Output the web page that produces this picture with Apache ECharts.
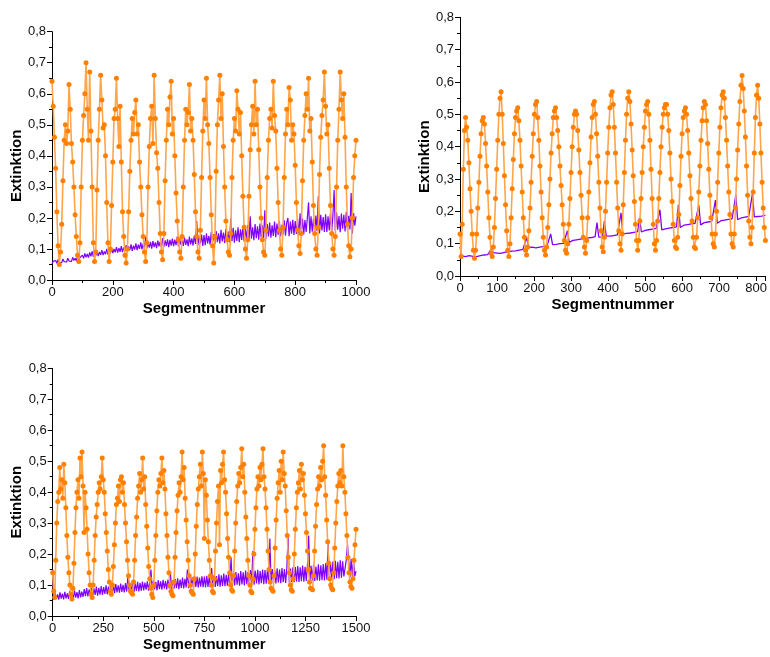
<!DOCTYPE html>
<html>
<head>
<meta charset="utf-8">
<script src="https://cdn.jsdelivr.net/npm/echarts@6/dist/echarts.min.js"></script>
<style>html,body{margin:0;padding:0;background:#fff}#c{width:770px;height:657px}</style>
</head>
<body>
<div id="c"></div>
<script>
// ---------- DATA ----------
const yTicks = [0, 0.1, 0.2, 0.3, 0.4, 0.5, 0.6, 0.7, 0.8];

// Panel 1 (Segment 0..1000)
const p1Step = 4;
const p1Orange = [
0.64,0.56,0.46,0.36,0.22,0.11,0.05,0.09,0.18,0.32,0.45,0.50,0.44,0.48,0.63,0.55,0.44,0.38,0.30,0.21,0.14,0.08,0.06,
0.12,0.30,0.45,0.53,0.60,0.70,0.55,0.45,0.67,0.48,0.30,0.12,0.06,
0.09,0.29,0.45,0.55,0.66,0.58,0.49,0.50,0.40,0.25,0.12,0.06,
0.10,0.24,0.38,0.52,0.55,0.65,0.52,0.43,0.56,0.38,0.22,0.14,0.08,0.055,
0.10,0.22,0.35,0.45,0.52,0.47,0.54,0.58,0.47,0.50,0.38,0.30,0.21,0.14,0.09,0.06,
0.12,0.30,0.43,0.52,0.56,0.44,0.66,0.52,0.41,0.36,0.25,0.15,0.09,0.065,
0.15,0.32,0.45,0.55,0.50,0.59,0.64,0.47,0.52,0.40,0.28,0.19,0.13,0.09,0.07,
0.14,0.30,0.45,0.55,0.50,0.54,0.63,0.48,0.52,0.45,0.34,0.22,0.14,0.09,0.07,
0.16,0.33,0.48,0.58,0.52,0.65,0.50,0.44,0.33,0.21,0.11,0.055,
0.14,0.35,0.50,0.58,0.66,0.52,0.60,0.43,0.30,0.19,0.13,0.09,0.08,
0.15,0.33,0.45,0.52,0.48,0.61,0.55,0.47,0.54,0.40,0.27,0.17,0.10,0.07,
0.13,0.27,0.42,0.50,0.56,0.47,0.64,0.50,0.55,0.42,0.30,0.20,0.13,0.09,0.08,
0.16,0.33,0.45,0.52,0.55,0.49,0.64,0.53,0.48,0.36,0.25,0.16,0.10,0.08,
0.17,0.33,0.47,0.55,0.50,0.62,0.58,0.45,0.50,0.47,0.37,0.25,0.16,0.11,0.085,
0.15,0.32,0.45,0.53,0.60,0.55,0.65,0.48,0.52,0.38,0.24,0.15,0.10,0.08,
0.17,0.34,0.46,0.53,0.58,0.67,0.56,0.47,0.50,0.36,0.24,0.15,0.10,0.08,
0.14,0.30,0.45,0.55,0.67,0.58,0.52,0.60,0.46,0.30,0.18,0.11,0.075,
0.10,0.20,0.33,0.40,0.45
];
const p1Purple = [
0.052,0.060,0.055,0.063,0.054,0.066,0.057,0.062,0.056,0.068,0.059,0.065,0.058,0.070,0.061,0.067,0.060,0.073,0.063,0.070,0.062,0.076,0.065,0.072,0.067,
0.080,0.070,0.086,0.073,0.084,0.072,0.089,0.076,0.092,0.075,0.087,0.078,0.094,0.077,0.090,0.081,0.096,0.080,0.092,0.083,0.100,0.082,0.095,0.086,0.103,
0.087,0.100,0.089,0.106,0.088,0.103,0.091,0.109,0.090,0.105,0.094,0.112,0.092,0.108,0.096,0.115,0.094,0.111,0.098,0.118,0.096,0.114,0.100,0.121,0.099,
0.117,0.100,0.140,0.102,0.120,0.104,0.123,0.101,0.125,0.106,0.121,0.103,0.127,0.108,0.124,0.105,0.135,0.107,0.128,0.110,0.131,0.106,0.129,0.111,0.133,
0.109,0.130,0.112,0.140,0.108,0.133,0.114,0.128,0.110,0.137,0.113,0.131,0.109,0.140,0.115,0.134,0.111,0.143,0.116,0.190,0.112,0.140,0.118,0.146,0.110,
0.145,0.112,0.150,0.118,0.142,0.114,0.155,0.120,0.148,0.116,0.158,0.122,0.150,0.118,0.162,0.124,0.153,0.119,0.165,0.126,0.156,0.121,0.200,0.125,0.168,
0.120,0.160,0.126,0.170,0.122,0.163,0.129,0.174,0.124,0.166,0.131,0.177,0.126,0.205,0.133,0.170,0.128,0.180,0.135,0.173,0.130,0.182,0.137,0.176,0.132,
0.225,0.134,0.180,0.140,0.185,0.136,0.176,0.142,0.188,0.138,0.182,0.145,0.190,0.140,0.178,0.147,0.192,0.143,0.185,0.200,0.141,0.188,0.149,0.194,0.145,
0.190,0.148,0.196,0.144,0.215,0.152,0.198,0.147,0.193,0.155,0.201,0.250,0.150,0.205,0.156,0.197,0.153,0.208,0.158,0.270,0.150,0.210,0.160,0.203,0.155,
0.212,0.155,0.205,0.160,0.215,0.152,0.208,0.290,0.158,0.218,0.162,0.206,0.154,0.214,0.165,0.210,0.156,0.220,0.160,0.207,0.163,0.280,0.150,0.216,0.175,0.205
];

// Panel 2 (Segment 0..825)
const p2Step = 3;
const p2Orange = [
0.13,0.06,0.16,0.33,0.45,0.49,0.46,0.42,0.35,0.27,0.20,0.13,0.08,0.055,
0.08,0.13,0.21,0.29,0.37,0.44,0.48,0.49,0.47,0.41,0.34,0.26,0.18,0.12,0.07,0.06,
0.09,0.15,0.24,0.33,0.42,0.50,0.55,0.57,0.50,0.41,0.31,0.22,0.14,0.08,0.06,
0.10,0.18,0.27,0.36,0.44,0.49,0.51,0.52,0.48,0.42,0.34,0.26,0.18,0.12,0.08,0.065,
0.09,0.14,0.21,0.29,0.37,0.44,0.50,0.53,0.54,0.49,0.42,0.34,0.26,0.18,0.12,0.08,0.065,
0.09,0.15,0.22,0.30,0.38,0.44,0.49,0.51,0.52,0.49,0.45,0.40,0.34,0.28,0.22,0.16,0.11,0.08,0.07,
0.10,0.16,0.24,0.32,0.40,0.46,0.50,0.51,0.50,0.45,0.39,0.32,0.25,0.18,0.12,0.09,0.07,
0.11,0.18,0.26,0.35,0.43,0.49,0.53,0.54,0.50,0.44,0.37,0.29,0.21,0.14,0.09,0.075,
0.12,0.20,0.29,0.38,0.46,0.52,0.56,0.57,0.53,0.46,0.38,0.29,0.21,0.14,0.10,0.08,
0.13,0.22,0.32,0.42,0.50,0.55,0.57,0.54,0.47,0.39,0.31,0.23,0.16,0.11,0.08,
0.11,0.17,0.24,0.32,0.40,0.46,0.51,0.53,0.54,0.50,0.42,0.33,0.24,0.16,0.10,0.08,
0.11,0.17,0.24,0.32,0.40,0.46,0.50,0.52,0.53,0.53,0.50,0.45,0.38,0.30,0.23,0.16,0.11,0.09,0.085,
0.12,0.19,0.28,0.37,0.44,0.49,0.51,0.52,0.50,0.45,0.38,0.31,0.24,0.17,0.12,0.09,0.085,
0.12,0.18,0.26,0.34,0.42,0.48,0.52,0.54,0.53,0.48,0.41,0.33,0.25,0.18,0.13,0.10,0.09,
0.13,0.20,0.29,0.38,0.46,0.52,0.56,0.57,0.55,0.49,0.42,0.34,0.26,0.19,0.13,0.10,0.09,
0.13,0.21,0.30,0.39,0.47,0.54,0.59,0.62,0.58,0.51,0.43,0.34,0.25,0.17,0.12,0.10,
0.15,0.26,0.38,0.49,0.56,0.59,0.55,0.47,0.38,0.29,0.21,0.15,0.11
];
const p2PurpleStep = 5;
const p2Purple = [
0.090,0.062,0.058,0.060,0.056,0.063,0.059,0.061,0.064,0.060,0.066,0.063,0.067,0.065,0.069,0.066,0.070,0.085,0.072,0.068,
0.071,0.074,0.070,0.076,0.073,0.078,0.075,0.079,0.077,0.081,0.078,0.083,0.080,0.084,0.082,0.086,0.120,0.088,0.085,0.089,
0.090,0.087,0.092,0.089,0.094,0.091,0.096,0.093,0.098,0.130,0.097,0.100,0.098,0.102,0.100,0.104,0.101,0.106,0.140,0.104,
0.107,0.110,0.106,0.112,0.109,0.114,0.111,0.116,0.113,0.118,0.115,0.119,0.117,0.122,0.165,0.120,0.123,0.121,0.170,0.124,
0.126,0.123,0.128,0.125,0.131,0.127,0.133,0.195,0.130,0.134,0.132,0.136,0.133,0.138,0.135,0.140,0.137,0.180,0.136,0.139,
0.141,0.138,0.143,0.140,0.145,0.142,0.147,0.144,0.205,0.143,0.148,0.146,0.151,0.148,0.153,0.150,0.155,0.152,0.220,0.150,
0.154,0.157,0.155,0.159,0.156,0.161,0.158,0.163,0.160,0.220,0.158,0.162,0.165,0.163,0.167,0.164,0.169,0.166,0.235,0.163,
0.168,0.171,0.169,0.173,0.171,0.175,0.173,0.177,0.175,0.250,0.174,0.178,0.180,0.178,0.182,0.180,0.184,0.181,0.255,0.183,
0.186,0.184,0.188,0.185,0.190,0.188
];

// Panel 3 (Segment 0..1500)
const p3OrangeStep = 5;
const p3Orange = [
0.14,0.08,0.06,0.18,0.30,0.37,0.40,0.48,0.41,0.44,0.38,0.49,0.43,0.35,0.26,0.19,0.14,0.10,0.07,0.055,
0.09,0.17,0.27,0.35,0.40,0.44,0.38,0.51,0.45,0.53,0.42,0.27,0.40,0.35,0.28,0.20,0.14,0.10,0.07,0.06,
0.10,0.18,0.26,0.32,0.36,0.40,0.43,0.41,0.45,0.51,0.44,0.40,0.33,0.27,0.21,0.15,0.11,0.08,0.07,
0.10,0.16,0.23,0.30,0.36,0.38,0.42,0.37,0.44,0.45,0.40,0.43,0.36,0.30,0.24,0.18,0.13,0.10,0.08,0.075,0.07,
0.11,0.18,0.26,0.32,0.38,0.42,0.46,0.40,0.44,0.51,0.41,0.45,0.36,0.29,0.22,0.16,0.12,0.09,0.07,0.06,
0.10,0.18,0.26,0.34,0.40,0.44,0.42,0.46,0.51,0.43,0.47,0.41,0.33,0.26,0.19,0.14,0.10,0.08,0.07,0.065,
0.11,0.19,0.27,0.34,0.39,0.43,0.40,0.45,0.53,0.44,0.48,0.38,0.31,0.24,0.18,0.13,0.10,0.08,0.075,0.07,
0.12,0.20,0.29,0.36,0.41,0.45,0.49,0.42,0.53,0.46,0.25,0.44,0.39,0.31,0.24,0.18,0.13,0.10,0.08,0.075,
0.12,0.21,0.30,0.37,0.42,0.23,0.47,0.43,0.49,0.53,0.44,0.40,0.33,0.25,0.19,0.14,0.10,0.085,0.08,
0.13,0.21,0.30,0.37,0.42,0.46,0.43,0.48,0.54,0.45,0.49,0.40,0.32,0.25,0.18,0.13,0.10,0.08,0.075,
0.12,0.20,0.28,0.35,0.41,0.45,0.42,0.48,0.44,0.49,0.54,0.45,0.41,0.35,0.28,0.21,0.15,0.11,0.09,0.085,0.08,
0.13,0.22,0.31,0.38,0.43,0.47,0.40,0.50,0.44,0.53,0.46,0.42,0.34,0.26,0.19,0.14,0.10,0.085,0.08,
0.12,0.20,0.28,0.35,0.40,0.43,0.47,0.41,0.49,0.44,0.46,0.39,0.33,0.27,0.21,0.15,0.11,0.09,0.088,0.085,
0.13,0.21,0.29,0.36,0.41,0.45,0.42,0.48,0.44,0.50,0.55,0.45,0.39,0.31,0.24,0.17,0.12,0.10,0.09,0.085,
0.14,0.22,0.30,0.37,0.42,0.46,0.43,0.47,0.42,0.55,0.45,0.40,0.33,0.26,0.19,0.14,0.11,0.095,0.09,
0.12,0.18,0.23,0.28
];
const p3PurpleStep = 6;
const p3Purple = [
0.150,0.052,0.074,0.055,0.070,0.053,0.076,0.056,0.072,0.054,0.078,0.057,0.073,0.055,0.080,0.058,0.075,0.056,0.082,0.059,0.077,0.057,0.084,0.060,0.079,
0.062,0.087,0.064,0.090,0.063,0.086,0.066,0.092,0.065,0.089,0.068,0.095,0.066,0.091,0.069,0.097,0.068,0.093,0.071,0.099,0.070,0.095,0.073,0.100,0.072,
0.100,0.074,0.103,0.076,0.099,0.075,0.105,0.078,0.101,0.076,0.106,0.079,0.130,0.077,0.104,0.080,0.108,0.078,0.105,0.081,0.110,0.079,0.107,0.082,0.111,
0.083,0.108,0.085,0.112,0.082,0.109,0.150,0.084,0.114,0.086,0.110,0.083,0.116,0.087,0.112,0.085,0.117,0.088,0.113,0.086,0.118,0.089,0.140,0.087,0.115,
0.088,0.119,0.090,0.122,0.087,0.118,0.091,0.124,0.089,0.120,0.092,0.150,0.090,0.123,0.093,0.126,0.091,0.121,0.094,0.127,0.092,0.124,0.095,0.128,0.093,
0.127,0.092,0.130,0.094,0.126,0.093,0.155,0.095,0.132,0.094,0.129,0.096,0.135,0.095,0.131,0.097,0.137,0.096,0.133,0.098,0.139,0.097,0.190,0.099,0.136,
0.099,0.142,0.101,0.138,0.098,0.145,0.102,0.141,0.099,0.147,0.103,0.143,0.100,0.148,0.104,0.210,0.101,0.146,0.105,0.149,0.102,0.145,0.106,0.150,0.103,
0.148,0.104,0.151,0.105,0.250,0.103,0.152,0.107,0.149,0.105,0.154,0.108,0.150,0.106,0.155,0.109,0.152,0.107,0.156,0.260,0.108,0.153,0.110,0.157,0.109,
0.158,0.111,0.161,0.110,0.157,0.112,0.163,0.111,0.159,0.113,0.165,0.260,0.112,0.162,0.114,0.166,0.113,0.160,0.115,0.167,0.114,0.164,0.116,0.168,0.115,
0.170,0.117,0.240,0.118,0.173,0.120,0.176,0.119,0.178,0.122,0.175,0.121,0.180,0.124,0.177,0.128,0.123,0.182,0.230,0.179,0.125,0.185,0.127,0.181,0.128,
0.145
];

// ---------- CHART ----------
const FONT = '"Liberation Sans", Arial, sans-serif';
const ORANGE = '#FF8000', ORANGE_LINE = '#FFA54A', PURPLE = '#7F00FF';
const pairs = (step, arr) => arr.map((v, i) => [i * step, v]);

function xAxis(gi, max, interval, hideMax) {
  return {
    type: 'value', gridIndex: gi, min: 0, max: max, interval: interval,
    name: 'Segmentnummer', nameLocation: 'middle', nameGap: 21,
    nameTextStyle: { fontFamily: FONT, fontWeight: 'bold', fontSize: 15, color: '#000' },
    axisLine: { show: true, onZero: false, lineStyle: { color: '#000', width: 1 } },
    axisTick: { show: true, inside: false, length: 5, lineStyle: { color: '#000' } },
    minorTick: { show: true, splitNumber: 2, length: 3, lineStyle: { color: '#000' } },
    axisLabel: { fontFamily: FONT, fontSize: 13, color: '#111', margin: 6, showMaxLabel: !hideMax,
      formatter: v => String(v) },
    splitLine: { show: false }, minorSplitLine: { show: false }
  };
}
function yAxis(gi) {
  return {
    type: 'value', gridIndex: gi, min: yTicks[0], max: yTicks[yTicks.length - 1], interval: 0.1,
    name: 'Extinktion', nameLocation: 'middle', nameGap: 27,
    nameTextStyle: { fontFamily: FONT, fontWeight: 'bold', fontSize: 15, color: '#000', padding: [0, 20, 0, 0] },
    axisLine: { show: true, onZero: false, lineStyle: { color: '#000', width: 1 } },
    axisTick: { show: true, inside: false, length: 5, lineStyle: { color: '#000' } },
    minorTick: { show: true, splitNumber: 2, length: 3, lineStyle: { color: '#000' } },
    axisLabel: { fontFamily: FONT, fontSize: 13, color: '#111', margin: 6,
      formatter: v => v.toFixed(1).replace('.', ',') },
    splitLine: { show: false }, minorSplitLine: { show: false }
  };
}
function purple(gi, data, w) {
  return { type: 'line', xAxisIndex: gi, yAxisIndex: gi, data: data, showSymbol: false,
    lineStyle: { color: PURPLE, width: w }, itemStyle: { color: PURPLE }, z: 2, silent: true };
}
function orange(gi, data) {
  return { type: 'line', xAxisIndex: gi, yAxisIndex: gi, data: data, symbol: 'circle', symbolSize: 5,
    showSymbol: true, showAllSymbol: true,
    lineStyle: { color: ORANGE_LINE, width: 1.6 }, itemStyle: { color: ORANGE }, z: 3, silent: true };
}

const chart = echarts.init(document.getElementById('c'), null, { renderer: 'canvas' });
chart.setOption({
  animation: false,
  backgroundColor: '#fff',
  grid: [
    { left: 52, top: 31.7, width: 304, height: 248.3 },
    { left: 460, top: 17.3, width: 309.4, height: 258.7 },
    { left: 52.7, top: 368.3, width: 303.3, height: 247.7 }
  ],
  xAxis: [xAxis(0, 1000, 200, false), xAxis(1, 825, 100, true), xAxis(2, 1500, 250, false)],
  yAxis: [yAxis(0), yAxis(1), yAxis(2)],
  series: [
    purple(0, pairs(p1Step, p1Purple), 1.2),
    orange(0, pairs(p1Step, p1Orange)),
    purple(1, pairs(p2PurpleStep, p2Purple), 1.3),
    orange(1, pairs(p2Step, p2Orange)),
    purple(2, pairs(p3PurpleStep, p3Purple), 1.2),
    orange(2, pairs(p3OrangeStep, p3Orange))
  ]
});
</script>
</body>
</html>
